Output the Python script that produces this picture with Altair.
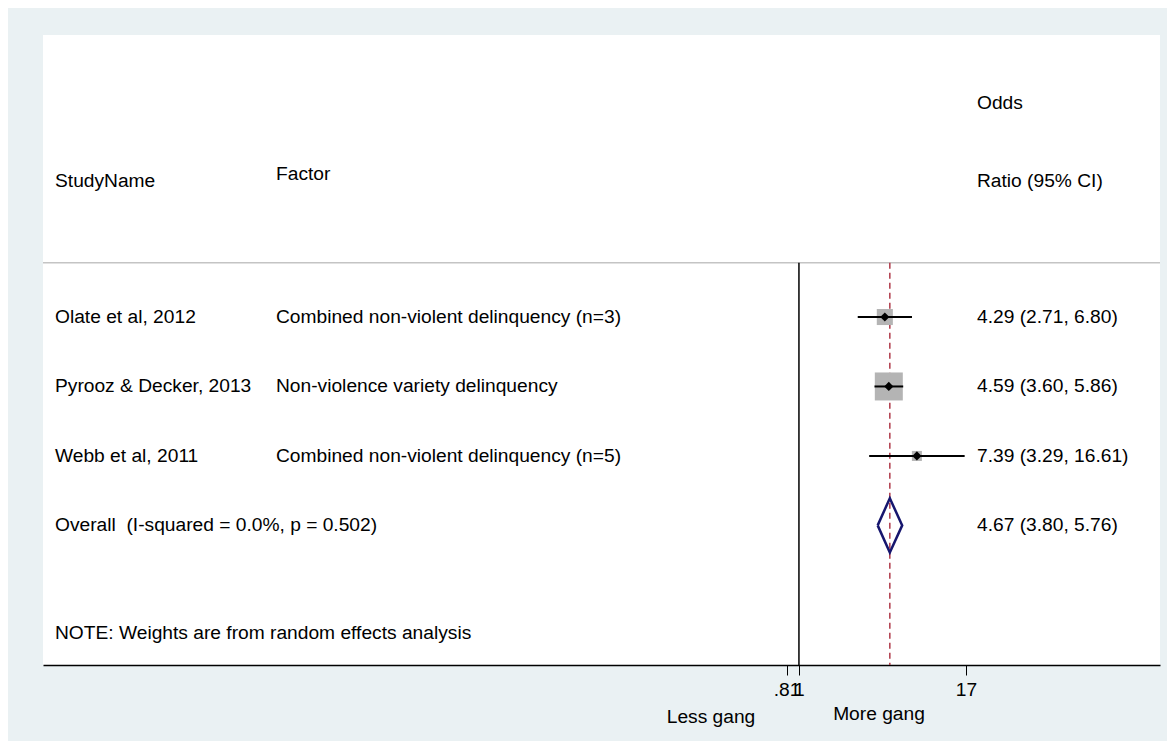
import altair as alt
import pandas as pd

# ---------------- data ----------------
studies = ["Olate et al, 2012", "Pyrooz & Decker, 2013", "Webb et al, 2011"]
factors = ["Combined non-violent delinquency (n=3)",
           "Non-violence variety delinquency",
           "Combined non-violent delinquency (n=5)"]
or_est = [4.29, 4.59, 7.39]
ci_lo = [2.71, 3.60, 3.29]
ci_hi = [6.80, 5.86, 16.61]
weights = [22.6, 68.6, 8.8]
ci_text = ["4.29 (2.71, 6.80)", "4.59 (3.60, 5.86)", "7.39 (3.29, 16.61)"]
study_rows = [1, 2, 3]

overall_label = "Overall\u00a0\u00a0(I-squared = 0.0%, p = 0.502)"
overall_est = 4.67
overall_lo = 3.80
overall_hi = 5.76
overall_text = "4.67 (3.80, 5.76)"
overall_row = 4

header_line1 = ["Odds"]
header_line2 = ["StudyName", "Factor", "Ratio (95% CI)"]
note_text = "NOTE: Weights are from random effects analysis"
x_ticks = [0.81, 1, 17]
favours = ["Less gang", "More gang"]

# ---------------- layout / style constants ----------------
FONT = "Liberation Sans"
FS = 19.2
X_DOMAIN = [2.71e-6, 456.0]      # log scale extent of the plot region
Y_DOMAIN = [-3.06, 6.01]         # row units, top to bottom
SEP_ROW = 0.22                   # separator between header and studies
ROW_BOTTOM = 6.01
HEADER1_ROW = -2.08
HEADER2_ROW = -0.96
FACTOR_HEADER_ROW = -1.06
NOTE_ROW = 5.55
DIAMOND_HALF = 0.39
COL_STUDY = 12
COL_FACTOR = 233
COL_CI = 934

xscale = alt.Scale(type="log", domain=X_DOMAIN, nice=False)
yscale = alt.Scale(domain=Y_DOMAIN, reverse=True, nice=False, zero=False)

df = pd.DataFrame({
    "row": study_rows, "study": studies, "factor": factors,
    "or": or_est, "lo": ci_lo, "hi": ci_hi, "w": weights, "ci": ci_text,
})

base = alt.Chart(df)

x_axis = alt.Axis(
    values=x_ticks, title=None, grid=False,
    labelExpr="datum.value < 1 ? '.81' : format(datum.value, 'd')",
    labelFont=FONT, labelFontSize=FS, labelColor="black",
    labelOverlap=False, labelFlush=False, labelPadding=5,
    tickSize=10, tickColor="black", tickWidth=1,
    domainColor="black", domainWidth=1.5,
)

# separator line
sep = alt.Chart(pd.DataFrame({"y": [SEP_ROW]})).mark_rule(
    color="#c4c4c4", strokeWidth=1.5
).encode(y=alt.Y("y:Q", scale=yscale, axis=None))

# null line at OR = 1
null_line = alt.Chart(pd.DataFrame({"x": [1.0]})).mark_rule(
    color="black", strokeWidth=1.5
).encode(
    x=alt.X("x:Q", scale=xscale, axis=x_axis),
    y=alt.datum(SEP_ROW), y2=alt.datum(ROW_BOTTOM),
)

# overall effect dashed line
ov_line = alt.Chart(pd.DataFrame({"x": [overall_est]})).mark_rule(
    color="#b03a4a", strokeWidth=1.5, strokeDash=[6, 4]
).encode(
    x=alt.X("x:Q", scale=xscale),
    y=alt.datum(SEP_ROW), y2=alt.datum(ROW_BOTTOM),
)

boxes = base.mark_square(color="#b4b4b4", opacity=1).encode(
    x=alt.X("or:Q", scale=xscale),
    y=alt.Y("row:Q", scale=yscale),
    size=alt.Size("w:Q", scale=alt.Scale(domain=[0, 100], range=[0, 1143]), legend=None),
)

ci_rules = base.mark_rule(color="black", strokeWidth=2).encode(
    x=alt.X("lo:Q", scale=xscale), x2="hi:Q",
    y=alt.Y("row:Q", scale=yscale),
)

points = base.mark_point(shape="diamond", filled=True, color="black", size=85, opacity=1).encode(
    x=alt.X("or:Q", scale=xscale),
    y=alt.Y("row:Q", scale=yscale),
)

diamond_df = pd.DataFrame({
    "x": [overall_lo, overall_est, overall_hi, overall_est, overall_lo],
    "y": [overall_row, overall_row - DIAMOND_HALF, overall_row,
          overall_row + DIAMOND_HALF, overall_row],
    "o": [0, 1, 2, 3, 4],
})
diamond = alt.Chart(diamond_df).mark_line(color="#16166e", strokeWidth=2.5).encode(
    x=alt.X("x:Q", scale=xscale),
    y=alt.Y("y:Q", scale=yscale),
    order="o:O",
)

def txt(**kw):
    return dict(font=FONT, fontSize=FS, color="black", align="left", baseline="middle", **kw)

study_txt = base.mark_text(**txt()).encode(
    x=alt.value(COL_STUDY), y=alt.Y("row:Q", scale=yscale), text="study:N")
factor_txt = base.mark_text(**txt()).encode(
    x=alt.value(COL_FACTOR), y=alt.Y("row:Q", scale=yscale), text="factor:N")
ci_txt = base.mark_text(**txt()).encode(
    x=alt.value(COL_CI), y=alt.Y("row:Q", scale=yscale), text="ci:N")

ov_df = pd.DataFrame({"row": [overall_row], "label": [overall_label], "ci": [overall_text]})
ov_label = alt.Chart(ov_df).mark_text(**txt()).encode(
    x=alt.value(COL_STUDY), y=alt.Y("row:Q", scale=yscale), text="label:N")
ov_ci = alt.Chart(ov_df).mark_text(**txt()).encode(
    x=alt.value(COL_CI), y=alt.Y("row:Q", scale=yscale), text="ci:N")

hdr_df = pd.DataFrame({
    "t": [header_line1[0], header_line2[0], header_line2[1], header_line2[2], note_text],
    "row": [HEADER1_ROW, HEADER2_ROW, FACTOR_HEADER_ROW, HEADER2_ROW, NOTE_ROW],
    "col": [COL_CI, COL_STUDY, COL_FACTOR, COL_CI, COL_STUDY],
})
hdr_layers = []
for i in range(len(hdr_df)):
    hdr_layers.append(
        alt.Chart(hdr_df.iloc[[i]]).mark_text(**txt()).encode(
            x=alt.value(int(hdr_df["col"].iloc[i])),
            y=alt.Y("row:Q", scale=yscale), text="t:N")
    )

fav_less = alt.Chart(pd.DataFrame({"t": [favours[0]]})).mark_text(
    font=FONT, fontSize=FS, color="black", align="center", baseline="middle"
).encode(x=alt.value(668), y=alt.value(682), text="t:N")
fav_more = alt.Chart(pd.DataFrame({"t": [favours[1]]})).mark_text(
    font=FONT, fontSize=FS, color="black", align="center", baseline="middle"
).encode(x=alt.value(836), y=alt.value(679), text="t:N")

chart = alt.layer(
    sep, null_line, ov_line, boxes, ci_rules, points, diamond,
    study_txt, factor_txt, ci_txt, ov_label, ov_ci, *hdr_layers,
    fav_less, fav_more,
).properties(
    width=1117, height=630,
    padding={"left": 35, "top": 27, "right": 7, "bottom": 76},
    autosize=alt.AutoSizeParams(type="none"),
    background="#eaf1f3",
).configure_view(
    strokeWidth=0, fill="white"
)

chart.save("out.html", embed_options={"renderer": "svg", "actions": False})
